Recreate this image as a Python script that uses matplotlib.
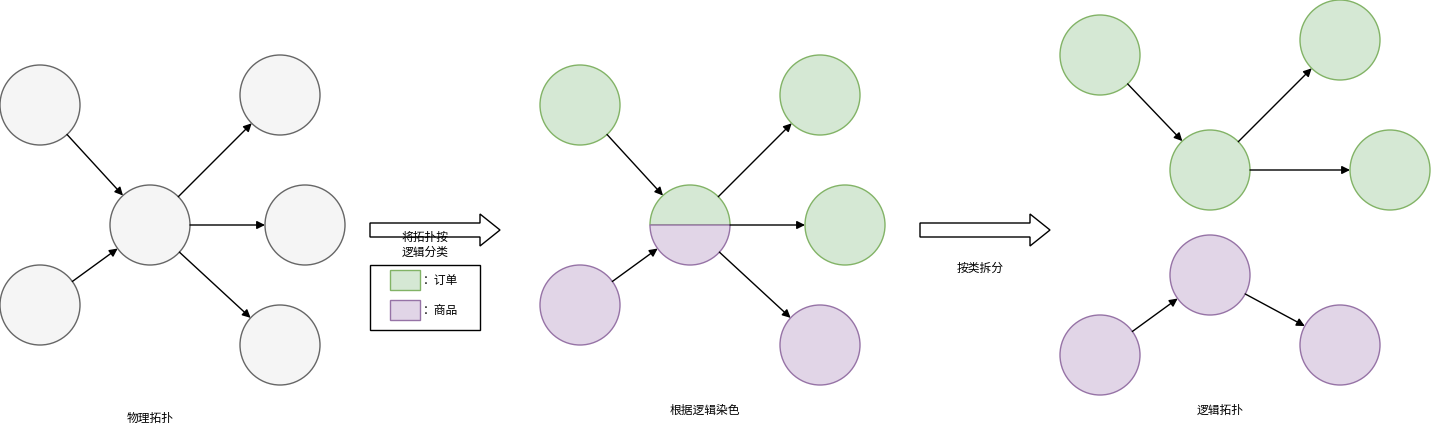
import matplotlib
matplotlib.use("Agg")
import matplotlib.pyplot as plt
from matplotlib.patches import Circle, Wedge, Rectangle, FancyArrow
import numpy as np

plt.rcParams["font.family"] = ["Noto Sans CJK SC", "DejaVu Sans"]

R = 40
GRAY = ("#f5f5f5", "#666666")
GREEN = ("#d5e8d4", "#82b366")
PURPLE = ("#e1d5e7", "#9673a6")

# node centres (pixels) and colour per node
p1_nodes = [(40, 105), (40, 305), (150, 225), (280, 95), (305, 225), (280, 345)]
p1_edges = [(0, 2), (1, 2), (2, 3), (2, 4), (2, 5)]

p2_nodes = [(580, 105), (580, 305), (690, 225), (820, 95), (845, 225), (820, 345)]
p2_colors = [GREEN, PURPLE, None, GREEN, GREEN, PURPLE]
p2_edges = [(0, 2), (1, 2), (2, 3), (2, 4), (2, 5)]

p3_nodes = [(1100, 55), (1210, 170), (1340, 40), (1390, 170),
            (1100, 355), (1210, 275), (1340, 345)]
p3_colors = [GREEN] * 4 + [PURPLE] * 3
p3_edges = [(0, 1), (1, 2), (1, 3), (4, 5), (5, 6)]

captions = [("物理拓扑", 150, 418), ("根据逻辑染色", 705, 410), ("逻辑拓扑", 1220, 410)]

fig = plt.figure(figsize=(14.31, 4.36), dpi=100)
ax = fig.add_axes([0, 0, 1, 1])
ax.set_xlim(0, 1431)
ax.set_ylim(436, 0)
ax.axis("off")


def draw_edges(nodes, edges):
    for a, b in edges:
        (x0, y0), (x1, y1) = nodes[a], nodes[b]
        d = np.hypot(x1 - x0, y1 - y0)
        ux, uy = (x1 - x0) / d, (y1 - y0) / d
        ax.annotate("", xy=(x1 - ux * R, y1 - uy * R), xytext=(x0 + ux * R, y0 + uy * R),
                    arrowprops=dict(arrowstyle="-|>", color="black", lw=1,
                                    mutation_scale=12, shrinkA=0, shrinkB=0))


def draw_nodes(nodes, colors):
    for (x, y), c in zip(nodes, colors):
        if c is None:
            ax.add_patch(Wedge((x, y), R, 180, 360, facecolor=GREEN[0], edgecolor=GREEN[1], lw=1))
            ax.add_patch(Wedge((x, y), R, 0, 180, facecolor=PURPLE[0], edgecolor=PURPLE[1], lw=1))
        else:
            ax.add_patch(Circle((x, y), R, facecolor=c[0], edgecolor=c[1], lw=1))


draw_edges(p1_nodes, p1_edges)
draw_nodes(p1_nodes, [GRAY] * len(p1_nodes))
draw_edges(p2_nodes, p2_edges)
draw_nodes(p2_nodes, p2_colors)
draw_edges(p3_nodes, p3_edges)
draw_nodes(p3_nodes, p3_colors)

# hollow block arrows
for x0 in (370, 920):
    ax.add_patch(FancyArrow(x0, 230, 130, 0, width=14, head_width=32, head_length=20,
                            length_includes_head=True, facecolor="white",
                            edgecolor="black", lw=1))

ax.text(425, 245, "将拓扑按\n逻辑分类", ha="center", va="center", fontsize=8.5, linespacing=1.2)
ax.text(980, 268, "按类拆分", ha="center", va="center", fontsize=8.5)

# legend box
ax.add_patch(Rectangle((370, 265), 110, 65, facecolor="white", edgecolor="black", lw=1))
ax.add_patch(Rectangle((390, 270), 30, 20, facecolor=GREEN[0], edgecolor=GREEN[1], lw=1))
ax.add_patch(Rectangle((390, 300), 30, 20, facecolor=PURPLE[0], edgecolor=PURPLE[1], lw=1))
ax.text(423, 280, "：订单", ha="left", va="center", fontsize=8.5)
ax.text(423, 310, "：商品", ha="left", va="center", fontsize=8.5)

for t, x, y in captions:
    ax.text(x, y, t, ha="center", va="center", fontsize=8.5)

fig.savefig("out.png", dpi=100)
